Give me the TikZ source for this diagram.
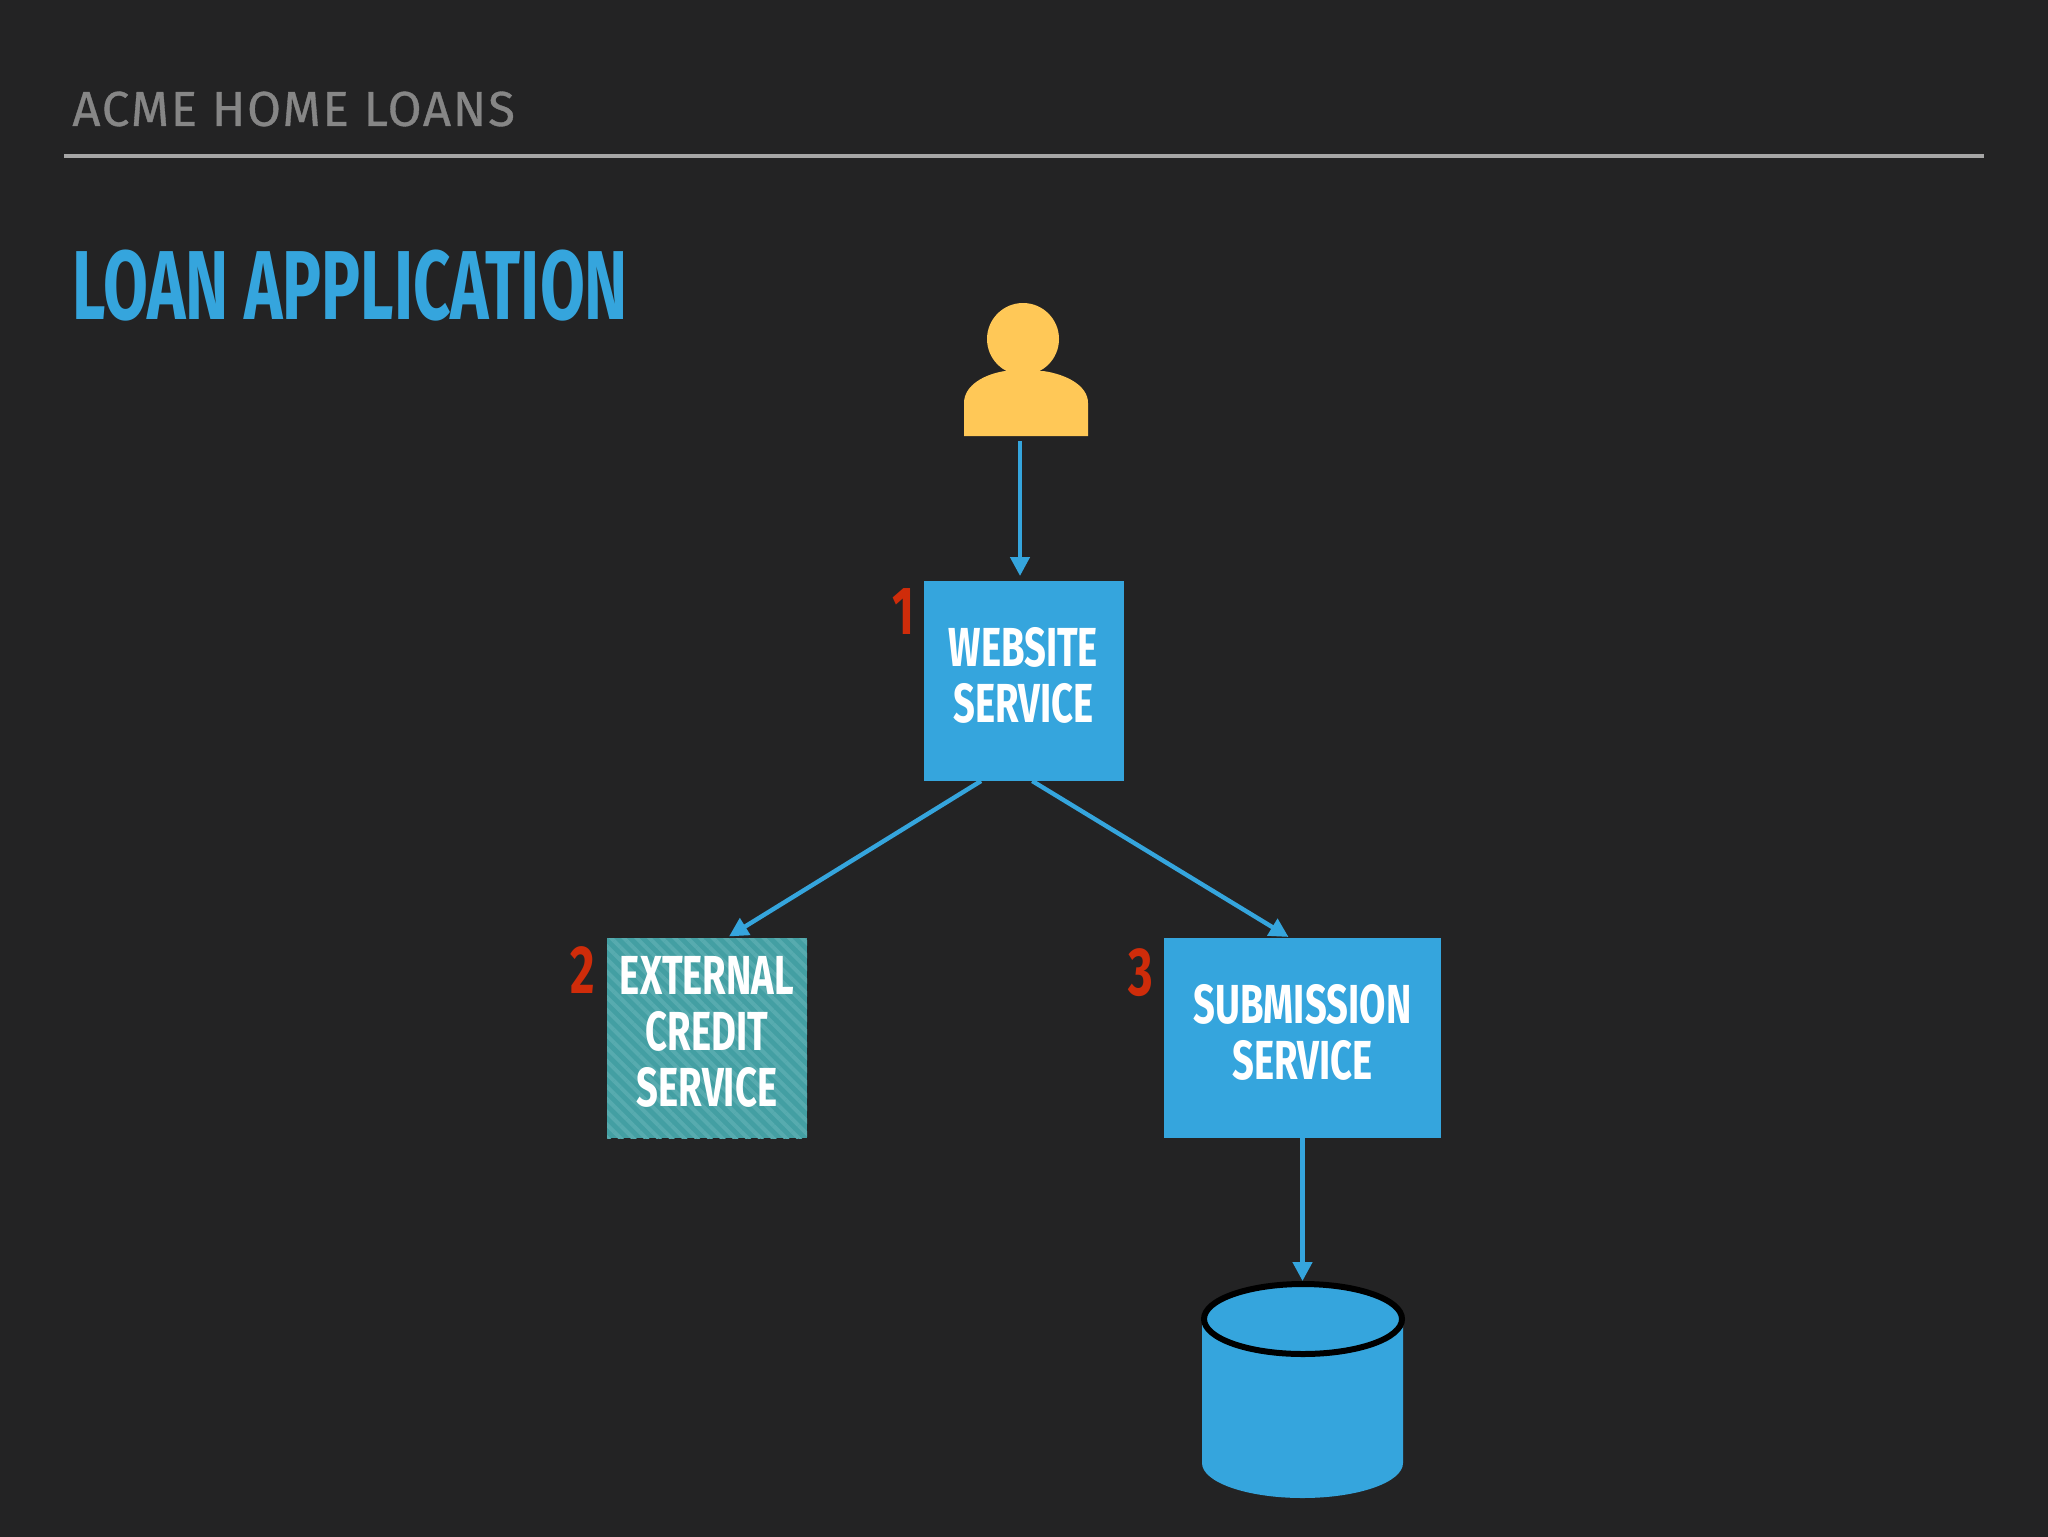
\documentclass[tikz,border=0pt]{standalone}
\usepackage{fontspec}
\usetikzlibrary{arrows.meta, patterns.meta}
\newfontfamily\dinfont[FakeStretch=0.695]{Fira Sans}
\newfontfamily\titlefont[FakeStretch=0.664]{Fira Sans}
\newfontfamily\headfont[LetterSpace=3.8, FakeBold=0.7]{Fira Sans}
\newcommand{\lifted}{\\[-21.5pt]\mbox{}}
\definecolor{slide}{HTML}{232324}
\definecolor{acmeblue}{HTML}{35A5DD}
\definecolor{acmeyellow}{HTML}{FFC857}
\definecolor{acmered}{HTML}{CF2C0A}
\definecolor{acmeteal}{HTML}{439FA3}
\definecolor{acmestripe}{HTML}{57ABAF}
\tikzset{
  service/.style={fill=acmeblue, text=white, inner sep=0pt, outer sep=0pt, align=center,
    font=\dinfont\fontsize{27.5}{28}\selectfont\bfseries},
  callout/.style={text=acmered, inner sep=0pt, font=\dinfont\fontsize{34}{34}\selectfont\bfseries},
  flow/.style={-{Triangle[length=9.5pt,width=9.5pt]}, line width=2.2pt, draw=acmeblue},
}
\begin{document}
\begin{tikzpicture}[x=0.5pt, y=-0.5pt]
\useasboundingbox (0,0) rectangle (2048,1536);
\fill [slide] (-10,-10) rectangle (2058,1546);
% header
\node (header) [anchor=west, inner sep=0pt, text=gray!95!white, font=\headfont\fontsize{24.5}{24.5}\selectfont] at (72,109) {ACME HOME LOANS};
\draw [line width=2pt, color=gray!70!white] (64,156) -- (1984,156);
\node (title) [anchor=west, inner sep=0pt, text=acmeblue, font=\titlefont\fontsize{49}{49}\selectfont\bfseries] at (72,286) {LOAN APPLICATION};
% user
\node (user) [minimum width=62pt, minimum height=51pt, inner sep=0pt, outer sep=0pt] at (1020,385) {};
\fill [acmeyellow] (1023,339) circle [radius=36];
\fill [acmeyellow] (964,436) -- (964,403) .. controls (964,385) and (985,374) .. (1005,371) -- (1043,371) .. controls (1065,374) and (1088,385) .. (1088,403) -- (1088,436) -- cycle;
% services
\node (website) [service, minimum width=100pt, minimum height=100pt] at (1023.5,681) {WEBSITE\\SERVICE\lifted};
\node (external) [service, minimum width=100pt, minimum height=100pt, fill=none, preaction={fill=acmeteal},
  pattern={Lines[angle=-45, distance=4.5pt, line width=2pt]}, pattern color=acmestripe] at (707,1038) {EXTERNAL\\CREDIT\\SERVICE\lifted};
\node (submission) [service, minimum width=138.5pt, minimum height=100pt] at (1302.5,1038) {SUBMISSION\\SERVICE\lifted};
% numbers
\node (one) [callout] at (903,612) {1};
\node (two) [callout] at (583,970) {2};
\node (three) [callout] at (1141,973) {3};
% database
\node (store) [minimum width=100pt, minimum height=108.5pt, inner sep=0pt, outer sep=0pt] at (1302.5,1389.5) {};
\fill [acmeblue] (1202,1319) -- (1202,1463) arc [start angle=180, end angle=0, x radius=100.5, y radius=35] -- (1403,1319) -- cycle;
\draw [fill=acmeblue, line width=3pt, color=black, fill=acmeblue] (1303,1319) ellipse [x radius=99, y radius=35];
% arrows
\draw [flow, shorten <=2.5pt, shorten >=2.5pt] (user.south) -- (user.south |- website.north);
\draw [flow, shorten >=1.5pt] (website.247) -- (external.79);
\draw [flow, shorten >=1pt] (website.-85) -- (submission.97.5);
\draw [flow] (submission.south) -- (store.north);
\end{tikzpicture}
\end{document}
